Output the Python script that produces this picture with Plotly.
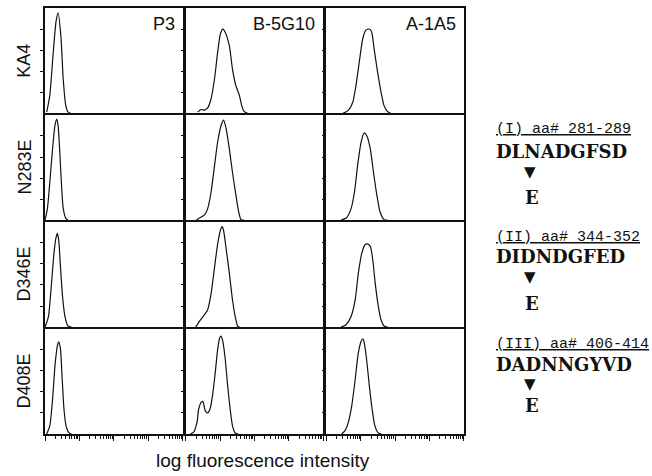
import plotly.graph_objects as go
from plotly.subplots import make_subplots

# ---------------- labels ----------------
MUTANTS = ["KA4", "N283E", "D346E", "D408E"]
ANTIBODIES = ["P3", "B-5G10", "A-1A5"]
REGION_LABELS = ["(I) aa# 281-289", "(II) aa# 344-352", "(III) aa# 406-414"]
SEQUENCES = ["DLNADGFSD", "DIDNDGFED", "DADNNGYVD"]
SUBSTITUTION = "E"
X_TITLE = "log fluorescence intensity"

# ---------------- histogram traces (x = log10 intensity, y = relative cell count) ----------------
KA4_P3_X = [0.05, 0.14, 0.24, 0.32, 0.38, 0.46, 0.53, 0.60, 0.67, 0.75]
KA4_P3_Y = [1, 17, 58, 87, 95.5, 74, 32, 8, 1, 0]
KA4_B5G10_X = [0.35, 0.45, 0.55, 0.64, 0.74, 0.84, 0.93, 1.01, 1.08, 1.15, 1.27, 1.36, 1.46, 1.56, 1.63, 1.70, 1.80]
KA4_B5G10_Y = [1, 3.5, 3, 5, 14, 33, 58, 75.5, 80, 77, 64, 42, 26, 17, 7, 1.5, 0]
KA4_A1A5_X = [0.48, 0.63, 0.77, 0.86, 0.96, 1.06, 1.15, 1.25, 1.32, 1.39, 1.49, 1.59, 1.68, 1.78, 1.87]
KA4_A1A5_Y = [0, 2.5, 10.5, 26, 49, 71, 79, 80, 77, 61, 39, 20, 7, 1.5, 0]

N283E_P3_X = [0.00, 0.07, 0.14, 0.22, 0.29, 0.34, 0.38, 0.43, 0.48, 0.53, 0.61, 0.67]
N283E_P3_Y = [0, 11, 36, 68, 90, 96, 90, 64.5, 33, 11, 1.5, 0]
N283E_B5G10_X = [0.31, 0.40, 0.55, 0.64, 0.74, 0.84, 0.93, 1.03, 1.10, 1.17, 1.27, 1.36, 1.46, 1.54, 1.61, 1.70]
N283E_B5G10_Y = [0, 2, 5, 11, 27, 52, 74.5, 90, 95, 88, 67.5, 45.5, 24, 8, 0.5, 0]
N283E_A1A5_X = [0.43, 0.58, 0.72, 0.82, 0.91, 1.01, 1.10, 1.18, 1.28, 1.37, 1.47, 1.56, 1.68, 1.78]
N283E_A1A5_Y = [0, 2, 11, 27, 52, 74, 83, 80, 67.5, 45.5, 23.5, 8, 0.5, 0]

D346E_P3_X = [0.00, 0.10, 0.19, 0.26, 0.32, 0.36, 0.40, 0.45, 0.51, 0.58, 0.67, 0.77]
D346E_P3_Y = [0, 10, 42, 70, 85, 89, 82, 57, 29, 10, 1, 0]
D346E_B5G10_X = [0.29, 0.40, 0.55, 0.64, 0.74, 0.84, 0.93, 1.01, 1.06, 1.10, 1.17, 1.27, 1.36, 1.44, 1.51, 1.56]
D346E_B5G10_Y = [0, 5.5, 12, 16.5, 32, 57, 79, 92, 95.5, 92, 76, 51, 26, 10, 1, 0]
D346E_A1A5_X = [0.43, 0.58, 0.72, 0.84, 0.93, 1.03, 1.12, 1.20, 1.28, 1.35, 1.42, 1.51, 1.59, 1.68, 1.78]
D346E_A1A5_Y = [0, 2.5, 10, 26, 51, 70, 78, 79, 76.5, 64, 42, 20, 7, 1, 0]

D408E_P3_X = [0.05, 0.14, 0.22, 0.29, 0.36, 0.40, 0.45, 0.50, 0.55, 0.61, 0.70, 0.77]
D408E_P3_Y = [0, 8, 33, 65, 84, 87.5, 80.5, 52, 24, 8, 1, 0]
D408E_B5G10_X = [0.14, 0.24, 0.33, 0.38, 0.45, 0.50, 0.57, 0.64, 0.71, 0.78, 0.86, 0.93, 0.99, 1.03, 1.08,
                 1.15, 1.22, 1.29, 1.36, 1.44, 1.53]
D408E_B5G10_Y = [0, 2, 11, 24, 30, 31, 22, 20, 24, 36.5, 58.5, 80.5, 91.5, 93, 88,
                 71, 46, 24.5, 8, 1, 0]
D408E_A1A5_X = [0.45, 0.55, 0.64, 0.74, 0.84, 0.93, 1.01, 1.06, 1.10, 1.17, 1.25, 1.33, 1.41, 1.51, 1.60]
D408E_A1A5_Y = [0, 3.5, 11, 27, 52, 77, 88, 90.5, 87, 71, 46, 24, 8, 1, 0]

CURVES = [
    [(KA4_P3_X, KA4_P3_Y), (KA4_B5G10_X, KA4_B5G10_Y), (KA4_A1A5_X, KA4_A1A5_Y)],
    [(N283E_P3_X, N283E_P3_Y), (N283E_B5G10_X, N283E_B5G10_Y), (N283E_A1A5_X, N283E_A1A5_Y)],
    [(D346E_P3_X, D346E_P3_Y), (D346E_B5G10_X, D346E_B5G10_Y), (D346E_A1A5_X, D346E_A1A5_Y)],
    [(D408E_P3_X, D408E_P3_Y), (D408E_B5G10_X, D408E_B5G10_Y), (D408E_A1A5_X, D408E_A1A5_Y)],
]

X_RANGE = [0, 4]
Y_RANGE = [0, 100]
Y_TICKS = [20, 40, 60, 80]
X_MAJOR = [0, 1, 2, 3, 4]
X_MINOR = [0.301, 0.477, 0.602, 0.699, 0.778, 0.845, 0.903, 0.954,
           1.301, 1.477, 1.602, 1.699, 1.778, 1.845, 1.903, 1.954,
           2.301, 2.477, 2.602, 2.699, 2.778, 2.845, 2.903, 2.954,
           3.301, 3.477, 3.602, 3.699, 3.778, 3.845, 3.903, 3.954]

SANS = "Liberation Sans, Arial, sans-serif"
MONO = "Courier New, Liberation Mono, monospace"
SERIF = "DejaVu Serif, Liberation Serif, serif"
INK = "#111111"

fig = make_subplots(rows=4, cols=3, horizontal_spacing=0.007, vertical_spacing=0.004)

for r in range(4):
    for c in range(3):
        xs, ys = CURVES[r][c]
        fig.add_trace(
            go.Scatter(x=xs, y=ys, mode="lines",
                       line=dict(color=INK, width=1.2, shape="spline", smoothing=0.6),
                       showlegend=False, hoverinfo="skip"),
            row=r + 1, col=c + 1)
        bottom = (r == 3)
        fig.update_xaxes(range=X_RANGE, showline=True, linecolor=INK, linewidth=1.5, mirror=True,
                         showgrid=False, zeroline=False, showticklabels=False,
                         ticks="outside" if bottom else "", tickvals=X_MAJOR if bottom else [],
                         ticklen=5, tickwidth=1, tickcolor=INK,
                         minor=dict(tickvals=X_MINOR if bottom else [], ticks="outside" if bottom else "",
                                    ticklen=3, tickwidth=1, tickcolor=INK, showgrid=False),
                         row=r + 1, col=c + 1)
        fig.update_yaxes(range=Y_RANGE, showline=True, linecolor=INK, linewidth=1.5, mirror=True,
                         showgrid=False, zeroline=False, showticklabels=False,
                         ticks="outside", tickvals=Y_TICKS, ticklen=3, tickwidth=1, tickcolor=INK,
                         row=r + 1, col=c + 1)

annotations = []
# antibody labels (top row)
for c, name in enumerate(ANTIBODIES):
    xa = "x" if c == 0 else f"x{c + 1}"
    annotations.append(dict(text=name, xref=f"{xa} domain", yref="y domain", x=0.955, y=0.85,
                            xanchor="right", yanchor="middle", showarrow=False,
                            font=dict(family=SANS, size=18, color=INK)))
# mutant labels (left side, rotated)
for r, name in enumerate(MUTANTS):
    idx = r * 3 + 1
    ya = "y" if idx == 1 else f"y{idx}"
    annotations.append(dict(text=name, xref="paper", yref=f"{ya} domain", x=-0.05, y=0.5,
                            xanchor="center", yanchor="middle", textangle=-90, showarrow=False,
                            font=dict(family=SANS, size=18, color=INK)))
# x axis title
annotations.append(dict(text=X_TITLE, xref="paper", yref="paper", x=0.521, y=-0.063,
                        xanchor="center", yanchor="middle", showarrow=False,
                        font=dict(family=SANS, size=19, color=INK)))

# motif blocks on the right
BLOCK_Y = [(0.714, 0.664, 0.615, 0.556), (0.462, 0.417, 0.369, 0.306), (0.210, 0.162, 0.117, 0.066)]
for (label, seq), (yl, ys, ya, ye) in zip(zip(REGION_LABELS, SEQUENCES), BLOCK_Y):
    annotations.append(dict(text=label, xref="paper", yref="paper", x=1.072, y=yl,
                            xanchor="left", yanchor="middle", showarrow=False,
                            font=dict(family=MONO, size=15, color=INK, lineposition="under")))
    annotations.append(dict(text=f"<b>{seq}</b>", xref="paper", yref="paper", x=1.072, y=ys,
                            xanchor="left", yanchor="middle", showarrow=False,
                            font=dict(family=SERIF, size=18, color=INK)))
    annotations.append(dict(text="▼", xref="paper", yref="paper", x=1.158, y=ya,
                            xanchor="center", yanchor="middle", showarrow=False,
                            font=dict(family="DejaVu Sans", size=15, color=INK)))
    annotations.append(dict(text=f"<b>{SUBSTITUTION}</b>", xref="paper", yref="paper", x=1.162, y=ye,
                            xanchor="center", yanchor="middle", showarrow=False,
                            font=dict(family=SERIF, size=18, color=INK)))

fig.update_layout(
    width=652, height=476,
    margin=dict(l=45, r=188, t=6, b=42),
    paper_bgcolor="white", plot_bgcolor="white",
    annotations=annotations,
    showlegend=False,
)

fig.write_html("out.html")
